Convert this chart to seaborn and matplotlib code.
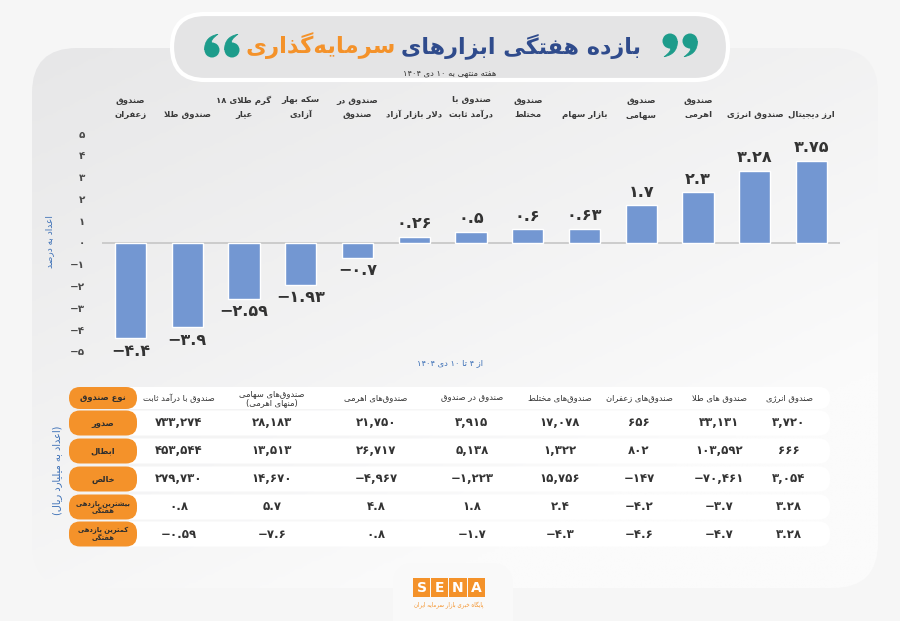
import re
import numpy as np
import pandas as pd
import matplotlib.pyplot as plt
import seaborn as sns
from matplotlib.patches import FancyBboxPatch, Circle, PathPatch
from matplotlib.path import Path
from matplotlib.colors import LinearSegmentedColormap

# --- Data ---
categories = ["صندوق\nزعفران", "صندوق طلا", "گرم طلای ۱۸\nعیار", "سکه بهار\nآزادی",
              "صندوق در\nصندوق", "دلار بازار آزاد", "صندوق با\nدرآمد ثابت", "صندوق\nمختلط",
              "بازار سهام", "صندوق\nسهامی", "صندوق\nاهرمی", "صندوق انرژی", "ارز دیجیتال"]
weekly_return = [-4.4, -3.9, -2.59, -1.93, -0.7, 0.26, 0.5, 0.6, 0.63, 1.7, 2.3, 3.28, 3.75]
y_ticks = [-5, -4, -3, -2, -1, 0, 1, 2, 3, 4, 5]

fund_types = ["صندوق با درآمد ثابت", "صندوق‌های سهامی\n(منهای اهرمی)", "صندوق‌های اهرمی",
              "صندوق در صندوق", "صندوق‌های مختلط", "صندوق‌های زعفران", "صندوق های طلا",
              "صندوق انرژی"]
row_labels = ["نوع صندوق", "صدور", "ابطال", "خالص", "بیشترین بازدهی\nهفتگی",
              "کمترین بازدهی\nهفتگی"]
issued = [733274, 28183, 21750, 3915, 17078, 656, 33131, 3720]
redeemed = [453544, 13513, 26717, 5138, 1322, 802, 103592, 666]
net_flow = [279730, 14670, -4967, -1223, 15756, -147, -70461, 3054]
max_return = [0.8, 5.7, 4.8, 1.8, 2.4, -4.2, -3.7, 3.28]
min_return = [-0.59, -7.6, 0.8, -1.7, -4.3, -4.6, -4.7, 3.28]

title_blue = "بازده هفتگی ابزارهای"
title_orange = "سرمایه‌گذاری"
subtitle = "هفته منتهی به ۱۰ دی ۱۴۰۴"
period = "از ۴ تا ۱۰ دی ۱۴۰۴"
y_label = "اعداد به درصد"
table_unit = "(اعداد به میلیارد ریال)"
source = "پایگاه خبری بازار سرمایه ایران"

# --- Persian shaping (no bidi/reshaper libs available) ---
_RJ = {'ا': (0xFE8D, 0xFE8E), 'آ': (0xFE81, 0xFE82), 'د': (0xFEA9, 0xFEAA),
       'ذ': (0xFEAB, 0xFEAC), 'ر': (0xFEAD, 0xFEAE), 'ز': (0xFEAF, 0xFEB0),
       'ژ': (0xFB8A, 0xFB8B), 'و': (0xFEED, 0xFEEE), 'ة': (0xFE93, 0xFE94)}
_DJ = {'ب': 0xFE8F, 'ت': 0xFE95, 'ث': 0xFE99, 'ج': 0xFE9D, 'ح': 0xFEA1, 'خ': 0xFEA5,
       'س': 0xFEB1, 'ش': 0xFEB5, 'ص': 0xFEB9, 'ض': 0xFEBD, 'ط': 0xFEC1, 'ظ': 0xFEC5,
       'ع': 0xFEC9, 'غ': 0xFECD, 'ف': 0xFED1, 'ق': 0xFED5, 'ل': 0xFEDD, 'م': 0xFEE1,
       'ن': 0xFEE5, 'ه': 0xFEE9, 'ي': 0xFEF1, 'ئ': 0xFE89,
       'پ': 0xFB56, 'چ': 0xFB7A, 'ک': 0xFB8E, 'گ': 0xFB92, 'ی': 0xFBFC}


def _shape(s):
    out, i, n = [], 0, len(s)
    while i < n:
        ch = s[i]
        prev = s[i - 1] if i > 0 else ''
        nxt = s[i + 1] if i + 1 < n else ''
        joined = prev in _DJ
        if ch == 'ل' and nxt in ('ا', 'آ'):
            base = 0xFEFB if nxt == 'ا' else 0xFEF5
            out.append(chr(base + (1 if joined else 0)))
            i += 2
            continue
        if ch in _DJ:
            links = nxt in _DJ or nxt in _RJ
            k = (3 if links else 1) if joined else (2 if links else 0)
            out.append(chr(_DJ[ch] + k))
        elif ch in _RJ:
            out.append(chr(_RJ[ch][1 if joined else 0]))
        elif ch != '\u200c':
            out.append(ch)
        i += 1
    return ''.join(out)


_NUM = re.compile(r'[0-9۰-۹]+(?:[.,][0-9۰-۹]+)*')
_MIRROR = {'(': ')', ')': '('}


def fa(text):
    lines = []
    for line in text.split('\n'):
        s = _shape(line)
        parts, pos = [], 0
        for m in _NUM.finditer(s):
            parts.append(''.join(_MIRROR.get(c, c) for c in reversed(s[pos:m.start()])))
            parts.append(m.group())
            pos = m.end()
        parts.append(''.join(_MIRROR.get(c, c) for c in reversed(s[pos:])))
        lines.append(''.join(reversed(parts)))
    return '\n'.join(lines)


_DIG = str.maketrans('0123456789-', '۰۱۲۳۴۵۶۷۸۹−')


def fa_num(v, fmt='g'):
    return format(v, fmt).translate(_DIG)


def quote_comma(axis, cx, cy, r, flip, color):
    """Round comma: blob with a curved tail (flip=-1 gives the opening '6' shape)."""
    s = flip
    pts = [(cx + s * r, cy),
           (cx + s * r, cy + s * 1.3 * r), (cx + s * 0.3 * r, cy + s * 1.9 * r),
           (cx - s * 0.8 * r, cy + s * 2.1 * r),
           (cx - s * 0.1 * r, cy + s * 1.6 * r), (cx + s * 0.2 * r, cy + s * 1.2 * r),
           (cx, cy + s * 0.9 * r), (cx + s * r, cy)]
    codes = [Path.MOVETO, Path.CURVE4, Path.CURVE4, Path.CURVE4,
             Path.CURVE4, Path.CURVE4, Path.CURVE4, Path.CLOSEPOLY]
    axis.add_patch(PathPatch(Path(pts, codes), fc=color, ec=color, lw=0.5, zorder=3))
    axis.add_patch(Circle((cx, cy), r, fc=color, ec='none', zorder=3))


# --- Figure ---
sns.set_style('white')
plt.rcParams['font.family'] = ['DejaVu Sans']

BLUE_BAR = '#7397d2'
ORANGE = '#f4922a'
NAVY = '#2f4b8c'
TEAL = '#1d9c8b'
LABEL_BLUE = '#3b6fb6'
DARK = '#333333'

fig = plt.figure(figsize=(9, 6.21), dpi=100, facecolor='#f6f6f6')
bg = fig.add_axes([0, 0, 1, 1], zorder=0)
bg.set_xlim(0, 900)
bg.set_ylim(621, 0)
bg.axis('off')

# card with soft gradient
card = FancyBboxPatch((32, 48), 846, 540, boxstyle='round,pad=0,rounding_size=45',
                      fc='none', ec='none')
bg.add_patch(card)
gx, gy = np.meshgrid(np.linspace(0, 1, 200), np.linspace(0, 1, 200))
shade = np.clip(0.55 * gx + 0.75 * gy, 0, 1)
img = bg.imshow(shade, cmap=LinearSegmentedColormap.from_list('card', ['#e7e7e8', '#fbfbfb']),
                extent=[32, 878, 588, 48], aspect='auto', zorder=0.5)
img.set_clip_path(card)

# bottom tab + logo
bg.add_patch(FancyBboxPatch((393, 563), 120, 80, boxstyle='round,pad=0,rounding_size=22',
                            fc='#f9f9f9', ec='none', zorder=1))
for k, letter in enumerate('SENA'):
    bg.add_patch(plt.Rectangle((413 + k * 18.2, 578), 17.2, 19, fc=ORANGE, ec='none', zorder=2))
    bg.text(413 + k * 18.2 + 8.6, 588, letter, color='white', fontsize=10, fontweight='bold',
            ha='center', va='center', zorder=3)
bg.text(449, 605, fa(source), color=ORANGE, fontsize=4, ha='center', va='center', zorder=3)

# title pill
bg.add_patch(FancyBboxPatch((172, 14), 556, 66, boxstyle='round,pad=0,rounding_size=33',
                            fc='#e4e4e5', ec='white', lw=3, zorder=1))
t_blue = bg.text(641, 46, fa(title_blue), color=NAVY, fontsize=16, fontweight='bold',
                 ha='right', va='center', zorder=3)
fig.canvas.draw()
left_px = t_blue.get_window_extent().x0
bg.text(left_px - 5, 46, fa(title_orange), color=ORANGE, fontsize=16.5, fontweight='bold',
        ha='right', va='center', zorder=3)
for cx in (670, 690):
    quote_comma(bg, cx, 41, 7.5, 1, TEAL)
for cx in (212, 232):
    quote_comma(bg, cx, 50, 7.5, -1, TEAL)
bg.text(450, 73, fa(subtitle), color=DARK, fontsize=6, ha='center', va='center', zorder=3)

bg.text(50, 242, fa(y_label), color=LABEL_BLUE, fontsize=6.5, rotation=90,
        ha='center', va='center', zorder=3)
bg.text(450, 363, fa(period), color=LABEL_BLUE, fontsize=6, ha='center', va='center', zorder=3)
bg.text(57, 470, fa(table_unit), color=LABEL_BLUE, fontsize=7, rotation=90,
        ha='center', va='center', zorder=3)

# --- Bar chart ---
df = pd.DataFrame({'category': categories, 'ret': weekly_return})
ax = fig.add_axes([102 / 900, 1 - 358 / 621, 738 / 900, 231 / 621], zorder=2)
ax.set_facecolor('none')
sns.barplot(data=df, x='category', y='ret', order=categories, color=BLUE_BAR,
            saturation=1, width=0.55, ax=ax)
ax.set_xlim(-0.5, len(categories) - 0.5)
ax.set_ylim(-5.3, 5.3)
ax.axhline(0, color='#c9c9c9', lw=1.3, zorder=0)
ax.set_yticks(y_ticks)
ax.set_yticklabels([fa_num(t) for t in y_ticks], color='#4a4a4a', fontsize=7.5, fontweight='bold')
ax.xaxis.tick_top()
ax.set_xticks(range(len(categories)))
ax.set_xticklabels([fa(c) for c in categories], fontsize=6.1, fontweight='bold', color='#3a3a3a',
                   linespacing=1.7)
ax.tick_params(axis='both', length=0)
ax.tick_params(axis='y', pad=12)
ax.tick_params(axis='x', pad=6)
ax.set_xlabel('')
ax.set_ylabel('')
sns.despine(ax=ax, left=True, bottom=True, top=True, right=True)
ax.bar_label(ax.containers[0], labels=[fa_num(v) for v in weekly_return], padding=4,
             fontsize=11.5, fontweight='bold', color=DARK)

# --- Table ---
col_x = [179, 272, 376, 472, 560, 639, 719, 789]
row_y = [398, 423, 451, 479, 507, 534]
table_rows = [issued, redeemed, net_flow, max_return, min_return]
row_fmt = [',d', ',d', ',d', 'g', 'g']

for r, (label, y) in enumerate(zip(row_labels, row_y)):
    h = 22 if r == 0 else 25
    bg.add_patch(FancyBboxPatch((120, y - h / 2), 710, h,
                                boxstyle='round,pad=0,rounding_size=11',
                                fc='white', ec='none', zorder=1))
    bg.add_patch(FancyBboxPatch((69, y - h / 2), 68, h,
                                boxstyle='round,pad=0,rounding_size=11',
                                fc=ORANGE, ec='none', zorder=2))
    bg.text(103, y, fa(label), color='#2e2e2e', fontsize=4.9 if '\n' in label else 6,
            fontweight='bold', ha='center', va='center', linespacing=1.0, zorder=3)

for name, x in zip(fund_types, col_x):
    bg.text(x, row_y[0], fa(name), color=DARK, fontsize=6, ha='center', va='center',
            linespacing=1.1, zorder=3)

for values, fmt, y in zip(table_rows, row_fmt, row_y[1:]):
    for v, x in zip(values, col_x):
        bg.text(x, y, fa_num(v, fmt), color=DARK, fontsize=8.5, fontweight='bold',
                ha='center', va='center', zorder=3)

fig.savefig('out.png', dpi=100, facecolor=fig.get_facecolor())
